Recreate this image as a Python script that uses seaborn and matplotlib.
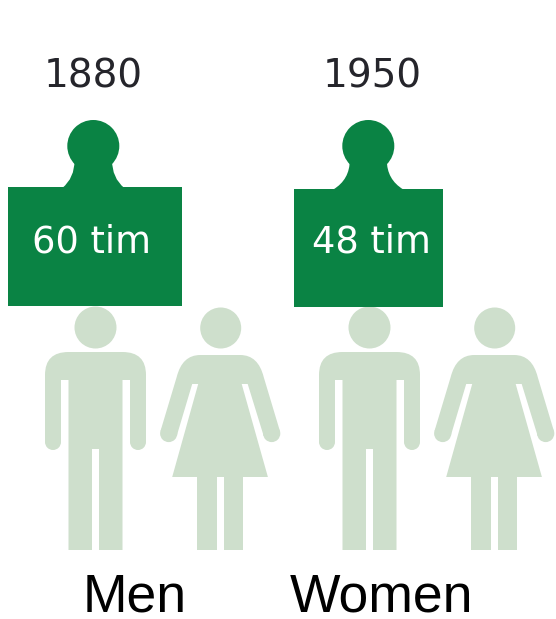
import matplotlib
matplotlib.use("Agg")
import matplotlib.pyplot as plt
from matplotlib.patches import Circle, PathPatch, Rectangle
from matplotlib.path import Path
import seaborn as sns

years = ["1880", "1950"]
hours = [60, 48]
hour_labels = ["60 tim", "48 tim"]
groups = ["Men", "Women"]

GREEN = "#0a8344"
PALE = "#cedfcc"
W, H = 556, 619

sns.set_theme(style="white")
plt.rcParams["font.family"] = ["Liberation Sans", "DejaVu Sans"]

fig = plt.figure(figsize=(W / 100, H / 100), dpi=100)
ax = fig.add_axes([0, 0, 1, 1])
ax.set_xlim(0, W)
ax.set_ylim(H, 0)
ax.axis("off")


def draw_path(steps, color, zorder=2):
    verts, codes = [], []
    for code, *pts in steps:
        verts.extend(pts)
        codes.extend([code] * len(pts))
    verts.append(verts[0])
    codes.append(Path.CLOSEPOLY)
    ax.add_patch(PathPatch(Path(verts, codes), fc=color, ec="none", zorder=zorder))


def draw_man(cx):
    ax.add_patch(Circle((cx, 327.5), 21, fc=PALE, ec="none"))
    for side in (-1, 1):
        ax.add_patch(Circle((cx + side * 42.5, 442), 8, fc=PALE, ec="none"))
    draw_path([
        (Path.MOVETO, (cx - 50.5, 442)),
        (Path.LINETO, (cx - 50.5, 375)),
        (Path.CURVE3, (cx - 50.5, 352), (cx - 27, 352)),
        (Path.LINETO, (cx + 27, 352)),
        (Path.CURVE3, (cx + 50.5, 352), (cx + 50.5, 375)),
        (Path.LINETO, (cx + 50.5, 442), (cx + 34.5, 442), (cx + 34.5, 380), (cx + 27, 380),
         (cx + 27, 550), (cx + 3.5, 550), (cx + 3.5, 449), (cx - 3.5, 449), (cx - 3.5, 550),
         (cx - 27, 550), (cx - 27, 380), (cx - 34.5, 380), (cx - 34.5, 442)),
    ], PALE)


def draw_woman(cx):
    ax.add_patch(Circle((cx + 0.5, 328), 20.5, fc=PALE, ec="none"))
    for side in (-1, 1):
        ax.add_patch(Circle((cx + side * 51.5, 433.5), 8.6, fc=PALE, ec="none"))
    draw_path([
        (Path.MOVETO, (cx - 59.7, 431)),
        (Path.LINETO, (cx - 43.5, 377)),
        (Path.CURVE3, (cx - 38, 355), (cx - 20, 355)),
        (Path.LINETO, (cx + 20, 355)),
        (Path.CURVE3, (cx + 38, 355), (cx + 43.5, 377)),
        (Path.LINETO, (cx + 59.7, 431), (cx + 43.5, 436), (cx + 27.5, 384), (cx + 21.5, 384),
         (cx + 47.7, 477), (cx - 48, 477), (cx - 22, 384), (cx - 28, 384), (cx - 43.5, 436)),
    ], PALE)
    ax.add_patch(Rectangle((cx - 23, 477), 19.5, 73, fc=PALE, ec="none"))
    ax.add_patch(Rectangle((cx + 3.5, 477), 19.5, 73, fc=PALE, ec="none"))


def draw_knob(cx, base, neck, flare):
    ax.add_patch(Circle((cx, 146), 26, fc=GREEN, ec="none", zorder=3))
    draw_path([
        (Path.MOVETO, (cx - flare, base + 1)),
        (Path.CURVE3, (cx - neck, base - 9), (cx - neck, 160)),
        (Path.LINETO, (cx + neck, 160)),
        (Path.CURVE3, (cx + neck, base - 9), (cx + flare, base + 1)),
    ], GREEN, zorder=3)


# one bar per year, each on its own small axes because the widths carry the hours
bar_boxes = [(7.5, 187, 175, 119.5), (293.5, 188.5, 149.5, 118)]
knobs = [(93.3, 187, 18.7, 31), (368.3, 188.5, 18.5, 35)]
year_x = [93.5, 372.5]
label_x = [91.5, 371.5]

for i, (x0, y0, w, h) in enumerate(bar_boxes):
    bar_ax = fig.add_axes([x0 / W, 1 - (y0 + h) / H, w / W, h / H], zorder=4)
    sns.barplot(x=[hours[i]], y=[years[i]], orient="h", color=GREEN, width=1,
                saturation=1, linewidth=0, edgecolor="none", ax=bar_ax)
    bar_ax.set_xlim(0, hours[i])
    bar_ax.set_ylim(0.5, -0.5)
    bar_ax.axis("off")
    draw_knob(*knobs[i])
    ax.text(year_x[i], 87, years[i], ha="center", va="baseline", fontsize=28,
            family="DejaVu Sans", color="#25252b")
    # text goes on the figure so it sits above the bar axes
    fig.text(label_x[i] / W, 1 - 253 / H, hour_labels[i], ha="center", va="baseline",
             fontsize=26.5, family="DejaVu Sans", color="white", zorder=10)

for offset in (0, 274):
    draw_man(95.5 + offset)
    draw_woman(220.2 + offset)

group_x = [135, 381.5]
for name, x in zip(groups, group_x):
    ax.text(x, 612, name, ha="center", va="baseline", fontsize=38.5, color="black")

fig.savefig("out.png", dpi=100)
